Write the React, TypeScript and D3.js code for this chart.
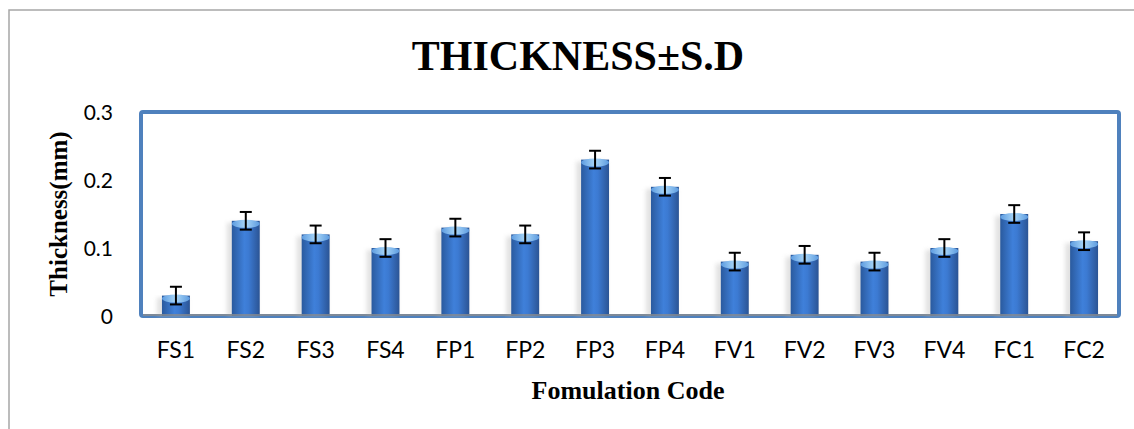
import React from "react";
import * as d3 from "d3";

const categories = ["FS1","FS2","FS3","FS4","FP1","FP2","FP3","FP4","FV1","FV2","FV3","FV4","FC1","FC2"];
const thickness = [0.03,0.14,0.12,0.10,0.13,0.12,0.23,0.19,0.08,0.09,0.08,0.10,0.15,0.11];
const sd = [0.013,0.013,0.013,0.013,0.013,0.013,0.013,0.013,0.013,0.013,0.013,0.013,0.013,0.013];
const yTicks = [0,0.1,0.2,0.3];

const W = 1134, H = 429;
const plot = { left: 141, right: 1119, top: 112, bottom: 316 };

export default function App() {
  const x = d3.scaleBand<string>().domain(categories).range([plot.left, plot.right]).paddingInner(0.6).paddingOuter(0.3);
  const y = d3.scaleLinear().domain([0, 0.3]).range([plot.bottom, plot.top]);
  const bw = x.bandwidth();
  const tickFont = "Lato, 'Open Sans', sans-serif";
  const serif = "'Liberation Serif', 'Times New Roman', serif";
  return (
    <svg width={W} height={H} style={{ position: "absolute", left: 0, top: 0, background: "#fff" }}>
      <defs>
        <linearGradient id="barg" x1="0" x2="1" y1="0" y2="0">
          <stop offset="0" stopColor="#2A5A9E" />
          <stop offset="0.45" stopColor="#3F80DA" />
          <stop offset="0.6" stopColor="#3C7AD2" />
          <stop offset="1" stopColor="#2B5494" />
        </linearGradient>
        <linearGradient id="topg" x1="0" x2="1" y1="0" y2="0">
          <stop offset="0" stopColor="#5C9BE0" />
          <stop offset="0.5" stopColor="#A9D6F7" />
          <stop offset="1" stopColor="#5C9BE0" />
        </linearGradient>
        <filter id="blur" x="-50%" y="-10%" width="200%" height="120%">
          <feGaussianBlur stdDeviation="2" />
        </filter>
      </defs>
      <rect x={9} y={10} width={1140} height={430} fill="#fff" stroke="#A6A6A6" strokeWidth={1.5} />
      <text x={578} y={70} textAnchor="middle" fontFamily={serif} fontWeight="bold" fontSize={42}>THICKNESS±S.D</text>
      <rect x={plot.left} y={plot.top} width={plot.right - plot.left} height={plot.bottom - plot.top} fill="#fff" stroke="#4F81BD" strokeWidth={4} rx={2} />
      {categories.map((c, i) => {
        const bx = x(c)!;
        const by = y(thickness[i]);
        const bh = plot.bottom - by;
        return (
          <g key={c}>
            <rect x={bx - 5} y={by + 2} width={bw + 3} height={bh - 2} fill="#BFBFBF" opacity={0.45} filter="url(#blur)" />
            <rect x={bx} y={by} width={bw} height={bh} fill="url(#barg)" />
            <ellipse cx={bx + bw / 2} cy={by + 3} rx={bw / 2} ry={4} fill="url(#topg)" />
          </g>
        );
      })}
      <line x1={plot.left + 2} x2={plot.right - 2} y1={plot.bottom - 1} y2={plot.bottom - 1} stroke="#8C8C8C" strokeWidth={1.5} />
      {categories.map((c, i) => {
        const cx = x(c)! + bw / 2;
        const yt = y(thickness[i] + sd[i]);
        const yb = y(thickness[i] - sd[i]);
        return (
          <g key={"e" + c} stroke="#000" strokeWidth={2}>
            <line x1={cx} x2={cx} y1={yt} y2={yb} />
            <line x1={cx - 6} x2={cx + 6} y1={yt} y2={yt} />
            <line x1={cx - 6} x2={cx + 6} y1={yb} y2={yb} />
          </g>
        );
      })}
      {yTicks.map(t => (
        <text key={t} x={113} y={y(t)} dy="0.36em" textAnchor="end" fontFamily={tickFont} fontWeight={400} fontSize={21}>{d3.format("")(t)}</text>
      ))}
      {categories.map(c => (
        <text key={"t" + c} x={x(c)! + bw / 2} y={358} textAnchor="middle" fontFamily={tickFont} fontWeight={400} fontSize={23}>{c}</text>
      ))}
      <text transform={`translate(67,${(plot.top + plot.bottom) / 2}) rotate(-90)`} textAnchor="middle" fontFamily={serif} fontWeight="bold" fontSize={25}>Thickness(mm)</text>
      <text x={628} y={399} textAnchor="middle" fontFamily={serif} fontWeight="bold" fontSize={26}>Fomulation Code</text>
    </svg>
  );
}
